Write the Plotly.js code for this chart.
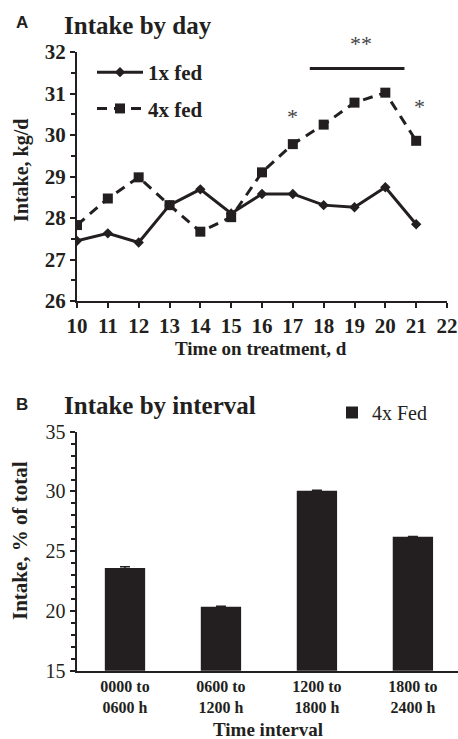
<!DOCTYPE html>
<html>
<head>
<meta charset="utf-8">
<script src="https://cdn.plot.ly/plotly-3.0.1.min.js"></script>
<style>html,body{margin:0;padding:0;background:#fff;}#chart{width:458px;height:739px;}</style>
</head>
<body>
<div id="chart"></div>
<script>
// ---- Data: panel A (intake by day) ----
const days = [10, 11, 12, 13, 14, 15, 16, 17, 18, 19, 20, 21];
const fed1x = [27.45, 27.63, 27.41, 28.31, 28.69, 28.11, 28.58, 28.58, 28.31, 28.26, 28.74, 27.85];
const fed4x = [27.83, 28.47, 28.98, 28.31, 27.67, 28.02, 29.10, 29.78, 30.25, 30.78, 31.02, 29.86];
const dayTicks = [10, 11, 12, 13, 14, 15, 16, 17, 18, 19, 20, 21, 22];
const intakeTicks = [26, 27, 28, 29, 30, 31, 32];
const intakeRange = [26, 32];
// significance marks
const sigBarX = [17.55, 20.62];
const sigBarY = [31.6, 31.6];
const starX = [17.0, 19.2, 21.1];
const starY = [30.45, 32.2, 30.68];
const starText = ["*", "**", "*"];

// ---- Data: panel B (intake by interval) ----
const intervals = ["0000 to<br>0600 h", "0600 to<br>1200 h", "1200 to<br>1800 h", "1800 to<br>2400 h"];
const pctTotal = [23.6, 20.35, 30.05, 26.2];
const pctErr = [0.1, 0.05, 0.04, 0.04];
const pctTicks = [15, 20, 25, 30, 35];

const W = 458, H = 739;
const px = x => x / W;
const py = y => 1 - y / H;
const serif = "Liberation Serif, Times New Roman, serif";
const sans = "Liberation Sans, Arial, sans-serif";
const ink = "#231f20";

const traces = [
  {
    x: days, y: fed4x, name: "4x fed", type: "scatter", mode: "lines+markers",
    xaxis: "x", yaxis: "y", legend: "legend", legendgroup: "b", legendrank: 2,
    line: {color: ink, width: 3, dash: "10px,7px"},
    marker: {symbol: "square", size: 10, color: ink}
  },
  {
    x: days, y: fed1x, name: "1x fed", type: "scatter", mode: "lines+markers",
    xaxis: "x", yaxis: "y", legend: "legend", legendgroup: "a", legendrank: 1,
    line: {color: ink, width: 3},
    marker: {symbol: "diamond", size: 8, color: ink}
  },
  {
    x: sigBarX, y: sigBarY, type: "scatter", mode: "lines", showlegend: false,
    xaxis: "x", yaxis: "y", line: {color: ink, width: 3}, hoverinfo: "skip"
  },
  {
    x: intervals, y: pctTotal, name: "4x Fed", type: "bar",
    xaxis: "x2", yaxis: "y2", legend: "legend2",
    width: 0.42, marker: {color: ink, line: {width: 0}},
    error_y: {type: "data", array: pctErr, visible: true, color: ink, thickness: 1.5, width: 5}
  }
];

const starAnnotations = starX.map((sx, i) => ({
  text: starText[i], x: sx, xref: "x",
  y: (starY[i] - intakeRange[0]) / (intakeRange[1] - intakeRange[0]), yref: "y domain",
  xanchor: "center", yanchor: "middle", showarrow: false,
  font: {family: serif, size: 22, color: "#444"}
}));

const layout = {
  width: W, height: H,
  margin: {l: 0, r: 0, t: 0, b: 0},
  paper_bgcolor: "#fff", plot_bgcolor: "rgba(0,0,0,0)",
  showlegend: true,
  font: {family: serif, color: ink},
  xaxis: {
    domain: [px(77), px(447)], anchor: "y", range: [10, 22],
    tickvals: dayTicks, ticks: "outside", ticklen: 5, tickwidth: 2, tickcolor: ink,
    showline: true, linewidth: 2, linecolor: ink, showgrid: false, zeroline: false,
    tickfont: {family: serif, size: 21, color: ink, weight: "bold"}
  },
  yaxis: {
    domain: [py(301), py(52)], anchor: "x", range: intakeRange,
    tickvals: intakeTicks, ticks: "outside", ticklen: 5, tickwidth: 2, tickcolor: ink,
    minor: {dtick: 0.5, ticks: "outside", ticklen: 4, tickwidth: 2, tickcolor: ink, showgrid: false},
    showline: true, linewidth: 2, linecolor: ink, showgrid: false, zeroline: false,
    tickfont: {family: serif, size: 21, color: ink, weight: "bold"}
  },
  xaxis2: {
    domain: [px(77), 1], anchor: "y2", range: [-0.5, 3.47], type: "category",
    ticks: "", showline: true, linewidth: 2.5, linecolor: ink, showgrid: false, zeroline: false,
    tickfont: {family: serif, size: 16, color: ink, weight: "bold"}
  },
  yaxis2: {
    domain: [py(670.7), py(431.7)], anchor: "x2", range: [15, 35],
    tickvals: pctTicks, ticks: "outside", ticklen: 5, tickwidth: 2, tickcolor: ink,
    minor: {dtick: 1, ticks: "outside", ticklen: 4, tickwidth: 2, tickcolor: ink, showgrid: false},
    showline: true, linewidth: 2.5, linecolor: ink, showgrid: false, zeroline: false,
    tickfont: {family: serif, size: 20, color: ink}
  },
  legend: {
    x: px(92), y: py(52), xanchor: "left", yanchor: "top",
    bgcolor: "rgba(0,0,0,0)", borderwidth: 0, traceorder: "grouped", tracegroupgap: 6,
    font: {family: serif, size: 21, color: ink, weight: "bold"},
    itemwidth: 46
  },
  legend2: {
    x: px(332), y: py(393), xanchor: "left", yanchor: "top",
    bgcolor: "rgba(0,0,0,0)", borderwidth: 0,
    font: {family: serif, size: 20, color: ink},
    itemwidth: 30
  },
  annotations: starAnnotations.concat([
    {text: "A", x: px(14), y: py(23), xref: "paper", yref: "paper", xanchor: "left", yanchor: "middle", showarrow: false,
     font: {family: sans, size: 17, color: ink, weight: "bold"}},
    {text: "Intake by day", x: px(62), y: py(25), xref: "paper", yref: "paper", xanchor: "left", yanchor: "middle", showarrow: false,
     font: {family: serif, size: 25, color: ink, weight: "bold"}},
    {text: "Intake, kg/d", x: px(22), y: py(171), xref: "paper", yref: "paper", xanchor: "center", yanchor: "middle", textangle: -90, showarrow: false,
     font: {family: serif, size: 20, color: ink, weight: "bold"}},
    {text: "Time on treatment, d", x: px(261), y: py(348), xref: "paper", yref: "paper", xanchor: "center", yanchor: "middle", showarrow: false,
     font: {family: serif, size: 19, color: ink, weight: "bold"}},
    {text: "B", x: px(14), y: py(404), xref: "paper", yref: "paper", xanchor: "left", yanchor: "middle", showarrow: false,
     font: {family: sans, size: 17, color: ink, weight: "bold"}},
    {text: "Intake by interval", x: px(62), y: py(405), xref: "paper", yref: "paper", xanchor: "left", yanchor: "middle", showarrow: false,
     font: {family: serif, size: 25, color: ink, weight: "bold"}},
    {text: "Intake, % of total", x: px(20), y: py(541), xref: "paper", yref: "paper", xanchor: "center", yanchor: "middle", textangle: -90, showarrow: false,
     font: {family: serif, size: 21, color: ink, weight: "bold"}},
    {text: "Time interval", x: px(268), y: py(729), xref: "paper", yref: "paper", xanchor: "center", yanchor: "middle", showarrow: false,
     font: {family: serif, size: 19, color: ink, weight: "bold"}}
  ])
};

Plotly.newPlot("chart", traces, layout, {staticPlot: true, displayModeBar: false});
</script>
</body>
</html>
